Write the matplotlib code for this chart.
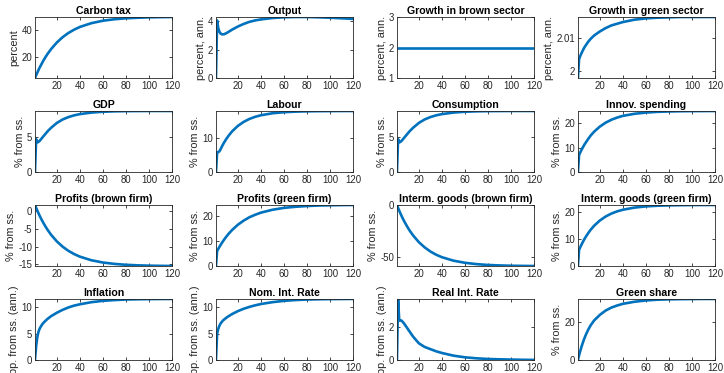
import matplotlib
matplotlib.use('Agg')  # no display
import matplotlib.pyplot as plt
from matplotlib.ticker import FuncFormatter

periods = [1, 2, 3, 4, 5, 6, 7, 8, 10, 12, 15, 20, 25, 30, 35, 40, 50, 60, 70, 80, 90, 100, 110, 120]

carbon_tax = [4.75, 6.8, 8.7, 10.6, 12.4, 14.0, 15.6, 17.2, 20.1, 22.7, 26.2, 31.1,
              35.0, 38.1, 40.6, 42.6, 45.4, 47.2, 48.3, 49.0, 49.4, 49.7, 49.85, 49.95]
output = [0.0, 4.05, 3.5, 3.25, 3.13, 3.08, 3.07, 3.08, 3.15, 3.25, 3.4, 3.62,
          3.8, 3.95, 4.05, 4.12, 4.22, 4.27, 4.29, 4.29, 4.27, 4.24, 4.2, 4.16]
growth_brown = [2.0] * 24
growth_green = [1.998, 2.0036, 2.0045, 2.0053, 2.006, 2.0067, 2.0073, 2.0078, 2.0088, 2.0096, 2.0106, 2.0118,
                2.0128, 2.0136, 2.0141, 2.0146, 2.0153, 2.0157, 2.0159, 2.016, 2.0161, 2.0161, 2.0161, 2.0161]
gdp = [0.0, 4.75, 4.3, 4.35, 4.5, 4.7, 4.9, 5.1, 5.5, 5.9, 6.4, 7.1,
       7.6, 7.95, 8.2, 8.38, 8.6, 8.72, 8.78, 8.81, 8.82, 8.83, 8.83, 8.83]
labour = [0.0, 5.8, 5.9, 6.1, 6.7, 7.4, 8.06, 8.67, 9.76, 10.73, 11.98, 13.6,
          14.78, 15.65, 16.28, 16.74, 17.33, 17.64, 17.81, 17.9, 17.95, 17.97, 17.99, 18.0]
consumption = [0.0, 4.75, 4.3, 4.35, 4.5, 4.7, 4.9, 5.1, 5.5, 5.9, 6.4, 7.1,
               7.6, 7.95, 8.2, 8.38, 8.6, 8.72, 8.78, 8.81, 8.82, 8.83, 8.83, 8.83]
innov_spending = [0.0, 7.0, 8.0, 8.96, 9.85, 10.7, 11.5, 12.2, 13.6, 14.9, 16.5, 18.6,
                  20.2, 21.4, 22.3, 23.0, 23.85, 24.35, 24.65, 24.8, 24.9, 24.95, 24.97, 25.0]
profits_brown = [1.8, 1.0, 0.23, -0.5, -1.2, -1.86, -2.5, -3.1, -4.22, -5.25, -6.62, -8.5,
                 -9.98, -11.15, -12.07, -12.8, -13.82, -14.46, -14.85, -15.1, -15.25, -15.34, -15.4, -15.44]
profits_green = [0.0, 6.0, 6.84, 7.64, 8.4, 9.14, 9.84, 10.5, 11.75, 12.9, 14.4, 16.5,
                 18.15, 19.5, 20.5, 21.35, 22.5, 23.26, 23.7, 24.0, 24.2, 24.3, 24.38, 24.42]
interm_brown = [0.0, -2.83, -5.5, -8.1, -10.5, -12.8, -15.0, -17.1, -21.0, -24.6, -29.3, -35.8,
                -40.8, -44.8, -47.9, -50.3, -53.65, -55.7, -57.0, -57.8, -58.25, -58.54, -58.7, -58.8]
interm_green = [0.0, 6.0, 6.95, 7.85, 8.7, 9.5, 10.26, 10.96, 12.26, 13.43, 14.92, 16.9,
                18.37, 19.48, 20.3, 20.9, 21.7, 22.15, 22.4, 22.53, 22.6, 22.65, 22.67, 22.68]
inflation = [0.0, 2.6, 4.3, 5.3, 5.9, 6.3, 6.65, 6.95, 7.4, 7.8, 8.3, 8.95,
             9.5, 9.95, 10.3, 10.55, 10.95, 11.2, 11.35, 11.45, 11.5, 11.53, 11.55, 11.56]
nom_rate = [0.0, 5.0, 5.9, 6.5, 6.9, 7.2, 7.45, 7.65, 8.0, 8.3, 8.7, 9.25,
            9.7, 10.05, 10.35, 10.6, 10.95, 11.2, 11.35, 11.45, 11.5, 11.53, 11.55, 11.56]
real_rate = [0.0, 3.65, 2.35, 2.38, 2.35, 2.28, 2.2, 2.1, 1.9, 1.7, 1.4, 1.0,
             0.78, 0.65, 0.52, 0.42, 0.26, 0.16, 0.1, 0.06, 0.04, 0.025, 0.012, 0.005]
green_share = [0.0, 2.5, 4.7, 6.8, 8.7, 10.5, 12.1, 13.6, 16.2, 18.4, 21.0, 24.0,
               26.3, 27.9, 29.0, 29.9, 31.0, 31.7, 32.1, 32.3, 32.4, 32.45, 32.5, 32.5]

titles = ['Carbon tax', 'Output', 'Growth in brown sector', 'Growth in green sector',
          'GDP', 'Labour', 'Consumption', 'Innov. spending',
          'Profits (brown firm)', 'Profits (green firm)', 'Interm. goods (brown firm)', 'Interm. goods (green firm)',
          'Inflation', 'Nom. Int. Rate', 'Real Int. Rate', 'Green share']
ylabels = ['percent', 'percent, ann.', 'percent, ann.', 'percent, ann.',
           '% from ss.', '% from ss.', '% from ss.', '% from ss.',
           '% from ss.', '% from ss.', '% from ss.', '% from ss.',
           'pp. from ss. (ann.)', 'pp. from ss. (ann.)', 'pp. from ss. (ann.)', '% from ss.']
series = [carbon_tax, output, growth_brown, growth_green,
          gdp, labour, consumption, innov_spending,
          profits_brown, profits_green, interm_brown, interm_green,
          inflation, nom_rate, real_rate, green_share]
yticks = [[20, 40], [0, 2, 4], [1, 2, 3], [2, 2.01],
          [0, 5], [0, 10], [0, 5], [0, 10, 20],
          [-15, -10, -5, 0], [0, 10, 20], [-50, 0], [0, 10, 20],
          [0, 5, 10], [0, 5, 10], [0, 2], [0, 20]]
xticks = [20, 40, 60, 80, 100, 120]

plt.rcParams['font.family'] = ['Liberation Sans', 'DejaVu Sans']
fig, axes = plt.subplots(4, 4, figsize=(7.24, 3.73), dpi=100)
fig.subplots_adjust(left=0.0483, right=0.9876, top=0.9544, bottom=0.0349, wspace=0.32, hspace=0.54)

fmt = FuncFormatter(lambda v, p: '%g' % v)  # MATLAB-like tick labels
for i, ax in enumerate(axes.flat):
    y = series[i]
    ax.plot(periods, y, color='#0072BD', linewidth=1.9)
    lo, hi = min(y), max(y)
    if lo == hi:  # constant series: MATLAB shows +-1 around it
        lo, hi = lo - 1, hi + 1
    ax.set_xlim(1, 120)
    ax.set_ylim(lo, hi)
    ax.set_xticks(xticks)
    ax.set_yticks(yticks[i])
    ax.yaxis.set_major_formatter(fmt)
    ax.set_title(titles[i], fontsize=7.6, fontweight='bold', pad=2)
    ax.set_ylabel(ylabels[i], fontsize=7.8, color='#262626', labelpad=1.5)
    ax.tick_params(direction='in', length=2, width=0.6, labelsize=6.9, colors='#262626',
                   top=True, right=True, pad=2)
    for s in ax.spines.values():
        s.set_linewidth(0.6)
        s.set_color('#262626')

plt.savefig('out.png', dpi=100)
